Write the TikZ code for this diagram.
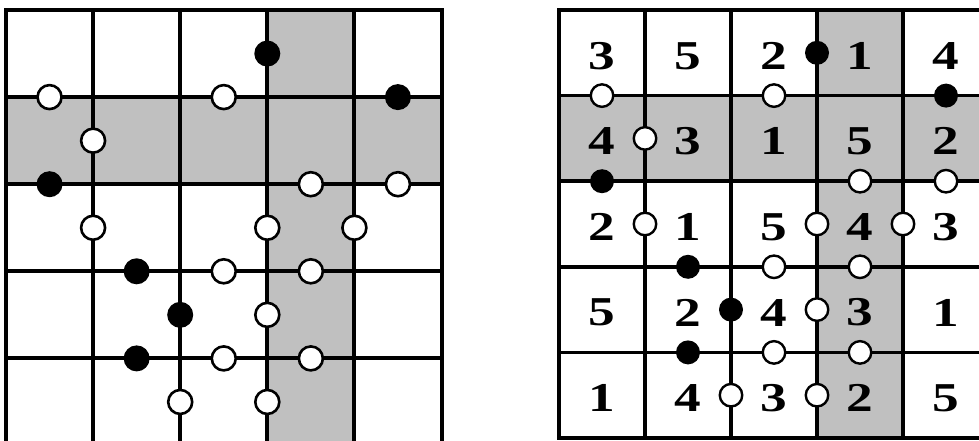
\documentclass[tikz,border=0pt]{standalone}
\usepackage{fontspec}
\setmainfont{Liberation Serif}
\definecolor{cellgray}{RGB}{192,192,192}
\newcommand{\dg}[1]{\scalebox{1.3}[1]{#1}}
\begin{document}
\begin{tikzpicture}[x=1pt,y=-1pt,
  gridline/.style={line width=4pt},
  wdot/.style={circle,draw=black,fill=white,line width=2.6pt,minimum size=24pt,inner sep=0pt},
  bdot/.style={circle,fill=black,minimum size=26pt,inner sep=0pt},
  num/.style={font=\fontsize{41}{41}\selectfont\bfseries,inner sep=0pt,yshift=-3pt}]
\useasboundingbox (0,0) rectangle (979,441);
\clip (0,0) rectangle (979,441);
\fill[white] (0,0) rectangle (979,441);

% ---------- left grid ----------
\begin{scope}[shift={(6pt,-10pt)},x=87.1pt,y=-87.1pt]
  \fill[cellgray] (0,1) rectangle (5,2);
  \fill[cellgray] (3,0) rectangle (4,5);
  \foreach \i in {1,...,4} {
    \draw[gridline] (\i,0) -- (\i,5);
    \draw[gridline] (0,\i) -- (5,\i);
  }
  \draw[gridline] (0,0) rectangle (5,5);
  \foreach \n/\x/\y in {1/3/0.5, 2/4.5/1, 3/0.5/2, 4/1.5/3, 5/2/3.5, 6/1.5/4}
    \node[bdot] (Lb\n) at (\x,\y) {};
  \foreach \n/\x/\y in {1/0.5/1, 2/2.5/1, 3/1/1.5, 4/3.5/2, 5/4.5/2, 6/1/2.5, 7/3/2.5,
      8/4/2.5, 9/2.5/3, 10/3.5/3, 11/3/3.5, 12/2.5/4, 13/3.5/4, 14/2/4.5, 15/3/4.5}
    \node[wdot] (Lw\n) at (\x,\y) {};
\end{scope}

% ---------- right grid ----------
\begin{scope}[shift={(559pt,-10pt)},x=86pt,y=-85.6pt,
    gridline/.style={line width=3.6pt},
    wdot/.style={circle,draw=black,fill=white,line width=2.4pt,minimum size=22.5pt,inner sep=0pt},
    bdot/.style={circle,fill=black,minimum size=24pt,inner sep=0pt}]
  \fill[cellgray] (0,1) rectangle (5,2);
  \fill[cellgray] (3,0) rectangle (4,5);
  \foreach \i in {1,...,4} {
    \draw[gridline] (\i,0) -- (\i,5);
    \draw[gridline] (0,\i) -- (5,\i);
  }
  \draw[gridline] (0,0) rectangle (5,5);
  \foreach \r/\row in {0/{3,5,2,1,4}, 1/{4,3,1,5,2}, 2/{2,1,5,4,3}, 3/{5,2,4,3,1}, 4/{1,4,3,2,5}} {
    \foreach \v [count=\c from 0] in \row
      \node[num] (Rn\r\c) at (\c+0.5,\r+0.5) {\dg{\v}};
  }
  \foreach \n/\x/\y in {1/3/0.5, 2/4.5/1, 3/0.5/2, 4/1.5/3, 5/2/3.5, 6/1.5/4}
    \node[bdot] (Rb\n) at (\x,\y) {};
  \foreach \n/\x/\y in {1/0.5/1, 2/2.5/1, 3/1/1.5, 4/3.5/2, 5/4.5/2, 6/1/2.5, 7/3/2.5,
      8/4/2.5, 9/2.5/3, 10/3.5/3, 11/3/3.5, 12/2.5/4, 13/3.5/4, 14/2/4.5, 15/3/4.5}
    \node[wdot] (Rw\n) at (\x,\y) {};
\end{scope}
\end{tikzpicture}
\end{document}
